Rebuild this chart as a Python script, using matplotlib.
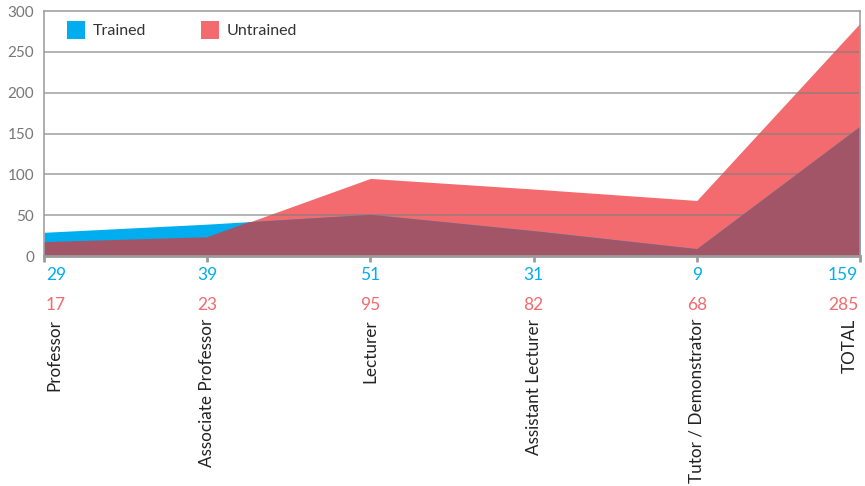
import matplotlib
matplotlib.use("Agg")
import matplotlib.pyplot as plt
from matplotlib.patches import Rectangle
import numpy as np

plt.rcParams["font.family"] = ["Lato", "DejaVu Sans"]

categories = ["Professor", "Associate Professor", "Lecturer", "Assistant Lecturer",
              "Tutor / Demonstrator", "TOTAL"]
trained = [29, 39, 51, 31, 9, 159]
untrained = [17, 23, 95, 82, 68, 285]

BLUE = "#00aeef"
RED = "#f36b6e"
MAUVE = "#a25566"
GRID = "#7f7f7f"

W, H = 865, 486
fig = plt.figure(figsize=(W / 100, H / 100), dpi=100)
ax = fig.add_axes([44 / W, 1 - 256 / H, (860 - 44) / W, (256 - 11) / H])

x = np.arange(len(categories))
red = ax.fill_between(x, 0, untrained, color=RED, lw=0, zorder=1)
for v in [50, 100, 150, 200, 250]:
    ax.axhline(v, color=GRID, lw=1.1, alpha=0.75, zorder=2)
ax.fill_between(x, 0, trained, color=BLUE, lw=0, zorder=3)
overlap = ax.fill_between(x, 0, trained, color=MAUVE, lw=0, zorder=4)
overlap.set_clip_path(red.get_paths()[0], transform=ax.transData)

ax.set_xlim(0, len(categories) - 1)
ax.set_ylim(0, 300)
ax.set_yticks([0, 50, 100, 150, 200, 250, 300])
ax.tick_params(axis="y", length=0, pad=7, labelsize=11, labelcolor="#777777")
ax.set_xticks(x)
ax.set_xticklabels([])
ax.tick_params(axis="x", length=4, width=2, color="#9a9a9a")
for s in ["top", "right", "left"]:
    ax.spines[s].set_color("#9a9a9a")
    ax.spines[s].set_linewidth(1.1)
    ax.spines[s].set_zorder(6)
ax.spines["bottom"].set_color("#9a9a9a")
ax.spines["bottom"].set_linewidth(2)
ax.spines["bottom"].set_zorder(6)

# value rows and category labels under the axis
for i, cat in enumerate(categories):
    ha = "left" if i == 0 else ("right" if i == len(categories) - 1 else "center")
    xt = ax.transData.transform((i, 0))[0] / W
    off = {"left": 2 / W, "right": -2 / W, "center": 0}[ha]
    fig.text(xt + off, 1 - 275 / H, str(trained[i]), color=BLUE, fontsize=12.5,
             ha=ha, va="center")
    fig.text(xt + off, 1 - 305 / H, str(untrained[i]), color=RED, fontsize=12.5,
             ha=ha, va="center")
    fig.text(xt + off * 5, 1 - 319 / H, cat, rotation=90, color="#222222",
             fontsize=12.3, ha="center", va="top")

# legend
for px, col, lab in [(67, BLUE, "Trained"), (201, RED, "Untrained")]:
    fig.patches.append(Rectangle((px / W, 1 - 39 / H), 18 / W, 18 / H,
                                 transform=fig.transFigure, color=col, lw=0))
    fig.text((px + 26) / W, 1 - 31 / H, lab, color="#333333", fontsize=11.5, va="center")

fig.savefig("out.png", dpi=100)
